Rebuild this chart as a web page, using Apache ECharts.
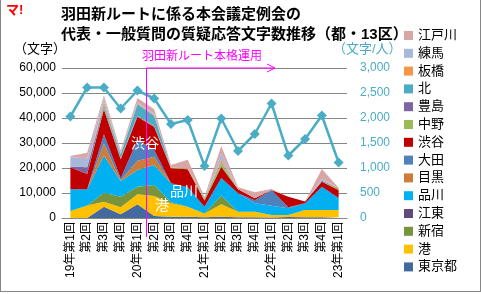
<!DOCTYPE html>
<html>
  <head>
    <meta charset="utf-8">
    <title></title>
    <style>
    html,body {margin:0; padding:0; background:#fff;}
    .box {width:479px; height:291px; border:1px solid #868686; border-top:none; position:relative;}
    #chart {width:481px; height:294px; position:absolute; left:-1px; top:0;}
    </style>
    <script src="https://cdn.jsdelivr.net/npm/echarts@6/dist/echarts.min.js"></script>
    <script>
    // 回次
    const sessions=['19年第1回','第2回','第3回','第4回','20年第1回','第2回','第3回','第4回',
      '21年第1回','第2回','第3回','第4回','22年第1回','第2回','第3回','第4回','23年第1回'];

    // 文字数（区ごと）
    const tokyo    =[0,0,4500,1500,5500,800,500,500,300,500,300,300,200,400,300,300,300];
    const minato   =[2800,5000,2000,2800,4000,8000,5400,4000,1500,5000,2200,2200,1000,800,2900,2900,2900];
    const shinjuku =[0,0,3600,4200,3000,4400,500,0,0,3500,0,0,0,0,0,0,0];
    const koto     =[0,0,0,0,0,0,0,0,0,0,0,0,0,0,0,0,0];
    const shinagawa=[8700,6500,14900,6300,6700,8000,7500,7800,2700,7000,7400,3400,3700,2700,2700,9300,4800];
    const meguro   =[0,0,4800,300,3700,3300,0,0,0,0,0,0,0,0,0,0,0];
    const ota      =[0,0,3700,800,8300,2700,0,0,0,0,0,1200,6300,400,0,0,0];
    const shibuya  =[8800,6100,10000,7600,9300,9300,6000,7200,2500,4500,1600,800,0,4200,700,2000,3200];
    const nakano   =[0,0,600,300,200,200,300,300,700,1500,0,0,0,0,0,0,900];
    const toshima  =[300,2700,300,200,300,200,0,0,0,200,0,0,0,0,0,400,0];
    const kita     =[0,0,1000,1500,4500,4000,0,0,300,300,0,0,0,0,0,0,0];
    const itabashi =[0,0,1200,200,300,300,0,0,0,1000,0,0,0,0,0,0,0];
    const nerima   =[3700,3600,1500,800,500,500,0,0,0,2300,0,0,0,0,0,700,0];
    const edogawa  =[500,2200,1000,600,1700,1800,1000,3500,500,3000,800,2400,400,0,0,4000,0];

    // 文字/人
    const perPerson=[2030,2610,2610,2190,2550,2390,1880,1960,1040,1990,1340,1680,2290,1250,1580,2050,1110];

    const wards=[
      {name:'東京都', data:tokyo,     color:'#44699E'},
      {name:'港',     data:minato,    color:'#FFC000'},
      {name:'新宿',   data:shinjuku,  color:'#77933C'},
      {name:'江東',   data:koto,      color:'#604A7B'},
      {name:'品川',   data:shinagawa, color:'#00B0F0'},
      {name:'目黒',   data:meguro,    color:'#CF7B3A'},
      {name:'大田',   data:ota,       color:'#4F81BD'},
      {name:'渋谷',   data:shibuya,   color:'#C00000'},
      {name:'中野',   data:nakano,    color:'#9BBB59'},
      {name:'豊島',   data:toshima,   color:'#8064A2'},
      {name:'北',     data:kita,      color:'#4BACC6'},
      {name:'板橋',   data:itabashi,  color:'#F79646'},
      {name:'練馬',   data:nerima,    color:'#A8B8DA'},
      {name:'江戸川', data:edogawa,   color:'#D9A6A6'},
    ];

    const FONT='"Liberation Sans", "Noto Sans CJK JP", sans-serif';

    window.onload=function (){
      let chart=echarts.init(document.getElementById('chart'));

      let series=wards.map(w=>({
        name: w.name,
        type: 'line',
        stack: 'all',
        data: w.data,
        symbol: 'none',
        lineStyle: {width:0},
        areaStyle: {color:w.color, opacity:1},
        itemStyle: {color:w.color},
        z: 2
      }));
      series.push({
        name: '文字/人',
        type: 'line',
        yAxisIndex: 1,
        data: perPerson,
        symbol: 'diamond',
        symbolSize: 10,
        lineStyle: {color:'#4BACC6', width:2.5},
        itemStyle: {color:'#4BACC6'},
        z: 5
      });

      let option={
        animation: false,
        textStyle: {fontFamily:FONT},
        title: {
          text: '羽田新ルートに係る本会議定例会の\n代表・一般質問の質疑応答文字数推移（都・13区）',
          left: 61, top: 5, padding: 0,
          textStyle: {fontSize:15, fontWeight:'bold', color:'#000', lineHeight:20, fontFamily:FONT}
        },
        legend: {
          orient: 'vertical',
          left: 404, top: 29,
          padding: 0,
          itemWidth: 9, itemHeight: 9, itemGap: 4.8,
          icon: 'rect',
          data: wards.map(w=>w.name).reverse(),
          textStyle: {fontSize:13, color:'#000', lineHeight:13, fontFamily:FONT}
        },
        grid: {left:62, right:134, top:68, bottom:76},
        xAxis: {
          type: 'category',
          data: sessions,
          boundaryGap: true,
          axisLine: {lineStyle:{color:'#868686'}},
          axisTick: {show:false},
          axisLabel: {interval:0, rotate:90, margin:4, fontSize:12, color:'#000', fontFamily:FONT}
        },
        yAxis: [
          {
            type: 'value', min:0, max:60000, interval:10000,
            axisLine: {show:false}, axisTick: {show:false},
            splitLine: {lineStyle:{color:'#868686'}},
            axisLabel: {fontSize:12, color:'#000', margin:6, fontFamily:FONT,
              formatter: v=>v.toLocaleString('en-US')}
          },
          {
            type: 'value', min:0, max:3000, interval:500,
            axisLine: {show:false}, axisTick: {show:false},
            splitLine: {show:false},
            axisLabel: {fontSize:12, color:'#4BACC6', margin:13, fontFamily:FONT,
              formatter: v=>v.toLocaleString('en-US')}
          }
        ],
        series: series
      };
      chart.setOption(option);

      // 本格運用の区切り線
      let x4=chart.convertToPixel({xAxisIndex:0}, 4);
      let x5=chart.convertToPixel({xAxisIndex:0}, 5);
      let xm=Math.round((x4+x5)/2)+0.5;
      let yTop=68;
      let arrowEnd=275;
      const PINK='#FF00FF';

      chart.setOption({
        graphic: [
          {type:'text', left:6, top:4, z:10,
            style:{text:'マ!', fill:'#FF0000', font:'bold 13px '+FONT}},
          {type:'text', left:14, top:43, z:10,
            style:{text:'（文字）', fill:'#000', font:'13px '+FONT}},
          {type:'text', left:333, top:43, z:10,
            style:{text:'（文字/人）', fill:'#4BACC6', font:'13px '+FONT}},
          {type:'text', left:142, top:51, z:10,
            style:{text:'羽田新ルート本格運用', fill:PINK, font:'12px '+FONT}},
          {type:'line', z:10, shape:{x1:xm, y1:yTop, x2:xm, y2:237},
            style:{stroke:PINK, lineWidth:1}},
          {type:'line', z:10, shape:{x1:xm, y1:yTop, x2:arrowEnd, y2:yTop},
            style:{stroke:PINK, lineWidth:1}},
          {type:'polyline', z:10, shape:{points:[[arrowEnd-8,yTop-4],[arrowEnd,yTop],[arrowEnd-8,yTop+4]]},
            style:{stroke:PINK, lineWidth:1, fill:null}},
          {type:'text', left:131, top:137, z:10,
            style:{text:'渋谷', fill:'#fff', font:'14px '+FONT}},
          {type:'text', left:170, top:185, z:10,
            style:{text:'品川', fill:'#fff', font:'14px '+FONT}},
          {type:'text', left:155, top:199, z:10,
            style:{text:'港', fill:'#fff', font:'14px '+FONT}}
        ]
      });
    };
    </script>
  </head>
  <body>
    <div class="box">
      <div id="chart"></div>
    </div>
  </body>
</html>
